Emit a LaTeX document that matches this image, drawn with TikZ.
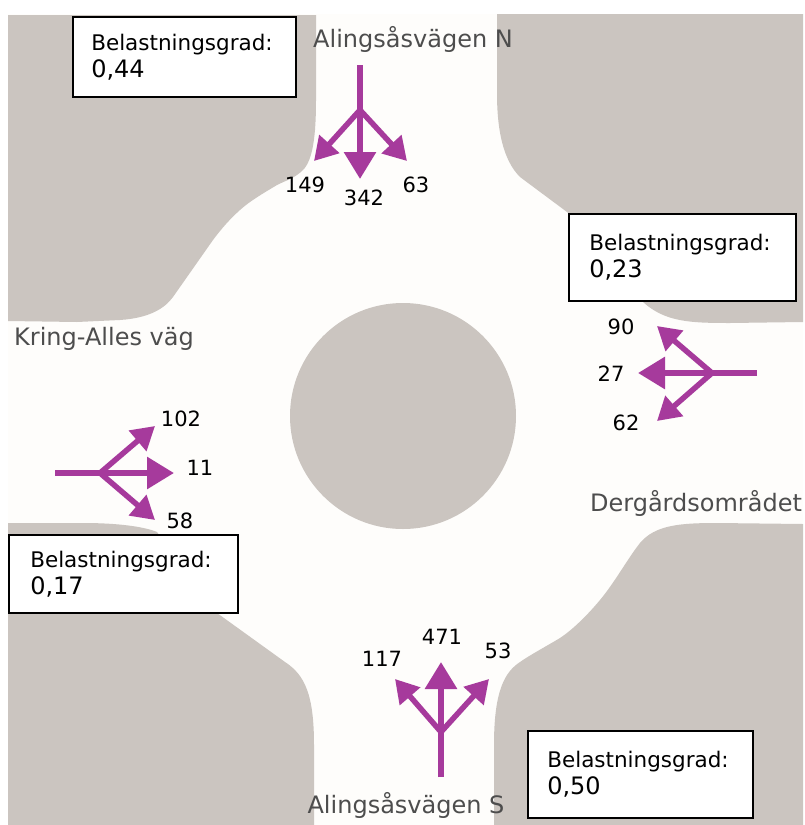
\documentclass[tikz,border=0pt]{standalone}
\usepackage{fontspec}
\setmainfont{DejaVu Sans}
\usetikzlibrary{arrows.meta}
\definecolor{blockgray}{HTML}{CBC5C0}
\definecolor{roadwhite}{HTML}{FEFDFB}
\definecolor{flowpurple}{HTML}{A63A9C}
\definecolor{roadtext}{HTML}{4D4D4D}
\newcommand{\gradval}[1]{Belastningsgrad:\\[1pt]{\fontsize{24}{28}\selectfont #1}}
\tikzset{
  block/.style={fill=blockgray},
  stem/.style={draw=flowpurple,line width=6pt},
  flow/.style={draw=flowpurple,line width=6pt,-{Triangle[length=27pt,width=31pt]}},
  branch/.style={draw=flowpurple,line width=5.5pt,-{Triangle[length=23pt,width=26pt]}},
  gradbox/.style={draw=black,line width=1.6pt,fill=white,anchor=north west,align=left,
    text width=186pt,inner xsep=0pt,inner ysep=0pt,font=\fontsize{21.5}{26}\selectfont},
  count/.style={font=\fontsize{21}{24}\selectfont,text=black,inner sep=0pt},
  road/.style={font=\fontsize{24}{27}\selectfont,text=roadtext,inner sep=0pt}
}
\begin{document}
\begin{tikzpicture}[x=1pt,y=-1pt]
  \useasboundingbox (0,0) rectangle (805,825);
  \fill[roadwhite] (8,14) rectangle (803,825);
  % corner blocks
  \fill[block] (8,15) -- (316,15) -- (316,100) .. controls (316,135) and (313,160) .. (303,170)
    .. controls (295,178) and (287,180) .. (277,185) .. controls (262,194) and (250,201) .. (240,210)
    .. controls (230,219) and (222,228) .. (213,240) -- (173,297)
    .. controls (165,308) and (150,318) .. (120,320) -- (77,322) -- (8,321) -- cycle;
  \fill[block] (497,14) -- (803,14) -- (803,322) -- (730,323) .. controls (690,323) and (665,322) .. (643,302)
    .. controls (620,270) and (590,228) .. (567,212) -- (520,177)
    .. controls (503,160) and (497,130) .. (497,93) -- cycle;
  \fill[block] (8,523) -- (83,523) .. controls (120,523) and (145,527) .. (157,532)
    -- (217,613) -- (285,662) .. controls (305,675) and (314,695) .. (314,745)
    -- (314,825) -- (8,825) -- cycle;
  \fill[block] (803,524) -- (717,523) .. controls (680,523) and (655,525) .. (640,543)
    .. controls (628,558) and (615,582) .. (600,600) .. controls (590,612) and (575,628) .. (560,638)
    .. controls (545,647) and (530,655) .. (520,662) .. controls (505,672) and (494,690) .. (494,745)
    -- (494,825) -- (803,825) -- cycle;
  \fill[blockgray] (403,416) circle (113);
  % load boxes
  \node[gradbox,minimum width=223pt,minimum height=80pt] (gradNW) at (72,16) {\gradval{0,44}};
  \node[gradbox,minimum width=227pt,minimum height=87pt] (gradNE) at (568,213) {\gradval{0,23}};
  \node[gradbox,minimum width=229pt,minimum height=78pt] (gradSW) at (8,534) {\gradval{0,17}};
  \node[gradbox,minimum width=225pt,minimum height=87pt] (gradSE) at (527,730) {\gradval{0,50}};
  % north arrows
  \coordinate (Nstart) at (360,65); \coordinate (Nsplit) at (360,110);
  \coordinate (Nleft) at (314,161); \coordinate (Nmid) at (360,179); \coordinate (Nright) at (407,161);
  \draw[stem] (Nstart) -- (Nsplit);
  \draw[branch] (Nsplit) -- (Nleft); \draw[flow] (Nsplit) -- (Nmid); \draw[branch] (Nsplit) -- (Nright);
  % east arrows
  \coordinate (Estart) at (757,373); \coordinate (Esplit) at (712,373);
  \coordinate (Eup) at (657,326); \coordinate (Emid) at (638,373); \coordinate (Edown) at (657,421);
  \draw[stem] (Estart) -- (Esplit);
  \draw[branch] (Esplit) -- (Eup); \draw[flow] (Esplit) -- (Emid); \draw[branch] (Esplit) -- (Edown);
  % west arrows
  \coordinate (Wstart) at (55,473); \coordinate (Wsplit) at (100,473);
  \coordinate (Wup) at (155,426); \coordinate (Wmid) at (174,473); \coordinate (Wdown) at (155,520);
  \draw[stem] (Wstart) -- (Wsplit);
  \draw[branch] (Wsplit) -- (Wup); \draw[flow] (Wsplit) -- (Wmid); \draw[branch] (Wsplit) -- (Wdown);
  % south arrows
  \coordinate (Sstart) at (441,777); \coordinate (Ssplit) at (441,732);
  \coordinate (Sleft) at (395,679); \coordinate (Smid) at (441,662); \coordinate (Sright) at (489,679);
  \draw[stem] (Sstart) -- (Ssplit);
  \draw[branch] (Ssplit) -- (Sleft); \draw[flow] (Ssplit) -- (Smid); \draw[branch] (Ssplit) -- (Sright);
  % traffic counts
  \node[count] (cN1) at (305,185) {149}; \node[count] (cN2) at (364,198) {342}; \node[count] (cN3) at (416,185) {63};
  \node[count] (cE1) at (621,327) {90}; \node[count] (cE2) at (611,374) {27}; \node[count] (cE3) at (626,423) {62};
  \node[count] (cW1) at (181,419) {102}; \node[count] (cW2) at (200,468) {11}; \node[count] (cW3) at (180,521) {58};
  \node[count] (cS1) at (382,659) {117}; \node[count] (cS2) at (442,637) {471}; \node[count] (cS3) at (498,651) {53};
  % road names
  \node[road] (roadN) at (413,39) {Alingsåsvägen N};
  \node[road] (roadW) at (104,339) {Kring-Alles väg};
  \node[road] (roadE) at (696,503) {Dergårdsområdet};
  \node[road] (roadS) at (406,805) {Alingsåsvägen S};
\end{tikzpicture}
\end{document}
